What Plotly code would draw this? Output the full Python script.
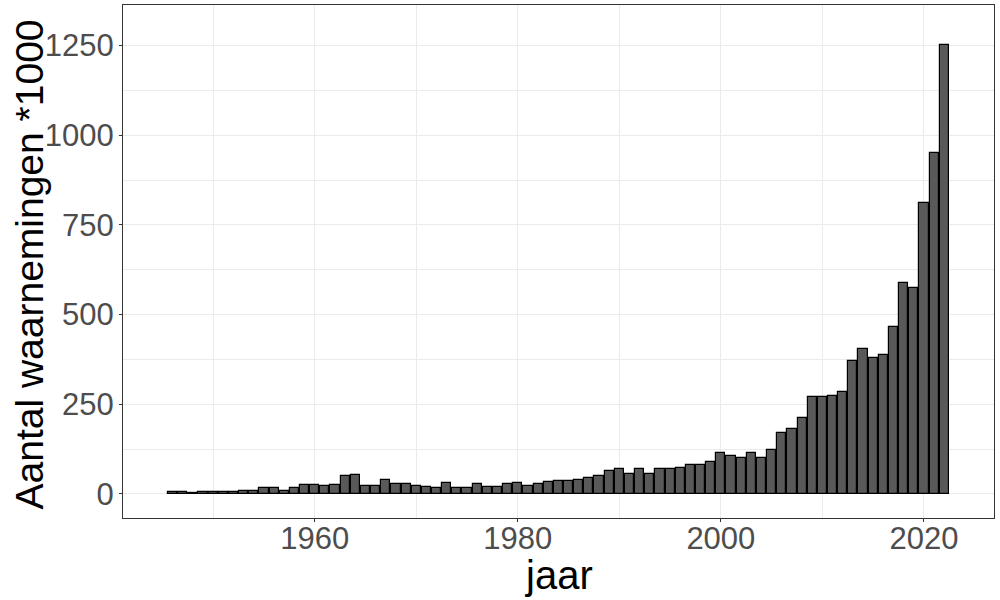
import plotly.graph_objects as go

years = list(range(1946, 2023))
values = [6.5, 6.5, 4, 6.5, 6.5, 6.5, 6.5, 9, 9, 16,
          16, 9, 16, 24, 24, 21, 24, 49, 52, 23,
          23, 38, 29, 29, 21, 19, 16, 30, 16, 16,
          27, 19, 19, 27, 30, 21, 27, 33, 35, 35,
          38, 44, 49, 63, 69, 55, 69, 55, 69, 69,
          72, 80, 80, 88, 113, 105, 101, 115, 101, 122,
          169, 180, 211, 270, 270, 272, 284, 370, 403, 378,
          386, 465, 588, 574, 811, 951, 1252]

x_ticks = [1960, 1980, 2000, 2020]
y_ticks = [0, 250, 500, 750, 1000, 1250]
x_title = "jaar"
y_title = "Aantal waarnemingen *1000"

fig = go.Figure(go.Bar(
    x=years, y=values, width=0.9,
    marker=dict(color="#595959", line=dict(color="black", width=1.2)),
))

grid = "#EBEBEB"
fam = "Liberation Sans, Arial, sans-serif"
tickfont = dict(family=fam, size=31, color="#4D4D4D")
titlefont = dict(family=fam, size=40, color="black")
ytitlefont = dict(family=fam, size=39, color="black")

fig.update_layout(
    width=1000, height=600,
    margin=dict(l=123, r=6, t=5, b=82, autoexpand=False),
    plot_bgcolor="white", paper_bgcolor="white",
    showlegend=False, bargap=0,
    annotations=[
        dict(text=x_title, xref="paper", yref="paper", x=0.5, y=0, yshift=-57,
             xanchor="center", yanchor="middle", showarrow=False, font=titlefont),
        dict(text=y_title, xref="paper", yref="paper", x=0, y=0.5, xshift=-94, yshift=-3,
             xanchor="center", yanchor="middle", textangle=-90, showarrow=False, font=ytitlefont),
    ],
)
fig.update_xaxes(
    automargin=False,
    range=[1941.12, 2026.9],
    tickvals=x_ticks, ticktext=[str(v) for v in x_ticks],
    tickfont=tickfont, ticklabelstandoff=-10,
    ticks="outside", ticklen=3, tickwidth=1, tickcolor="#333333",
    showgrid=True, gridcolor=grid, gridwidth=1,
    minor=dict(tickvals=[1950, 1970, 1990, 2010], showgrid=True, gridcolor=grid, gridwidth=0.6, ticks=""),
    showline=True, linecolor="#333333", linewidth=1, mirror=True,
    zeroline=False,
)
fig.update_yaxes(
    automargin=False,
    range=[-67, 1363],
    tickvals=y_ticks, ticktext=[str(v) for v in y_ticks],
    tickfont=tickfont, ticklabelstandoff=-1,
    ticks="outside", ticklen=3, tickwidth=1, tickcolor="#333333",
    showgrid=True, gridcolor=grid, gridwidth=1,
    minor=dict(tickvals=[125, 375, 625, 875, 1125], showgrid=True, gridcolor=grid, gridwidth=0.6, ticks=""),
    showline=True, linecolor="#333333", linewidth=1, mirror=True,
    zeroline=False,
)

fig.write_html("out.html", config={"displayModeBar": False},
               post_script="document.body.style.margin='0';document.body.style.overflow='hidden';")
